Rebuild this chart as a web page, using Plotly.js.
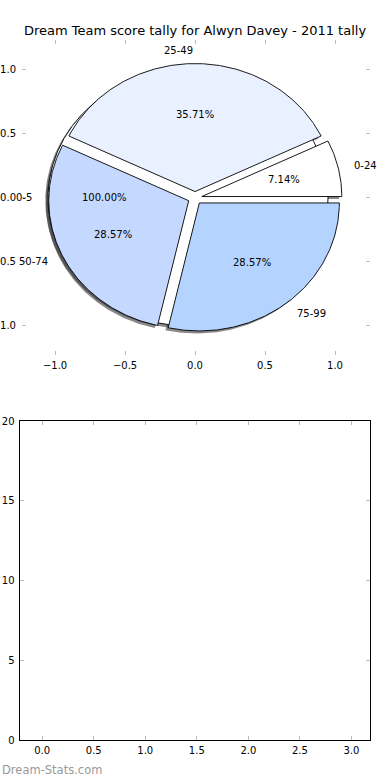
<!DOCTYPE html>
<html>
<head>
<meta charset="utf-8">
<script src="https://cdn.plot.ly/plotly-3.0.1.min.js"></script>
<style>html,body{margin:0;padding:0;background:#fff;}#chart{width:390px;height:780px;}</style>
</head>
<body>
<div id="chart"></div>
<script>
// ---- data ----
const titleText = 'Dream Team score tally for Alwyn Davey - 2011 tally';
const basePieLabels = ['0-5'];
const basePieCounts = [1];
const pieLabels = ['0-24', '25-49', '50-74', '75-99'];
const pieCounts = [1, 5, 4, 4];
const pieTicks = [-1.0, -0.5, 0.0, 0.5, 1.0];
const barXTicks = [0.0, 0.5, 1.0, 1.5, 2.0, 2.5, 3.0];
const barYTicks = [0, 5, 10, 15, 20];
const watermark = 'Dream-Stats.com';

// ---- styles ----
const basePieColors = ['#ffffff'];
const pieColors = ['#ffffff', '#e9f0ff', '#c5d8ff', '#b4d4ff'];
const explode = 0.05;
const shadowOff = -0.02;
const FONT = 'DejaVu Sans, sans-serif';

function wedgeGeom(counts) {
  const total = counts.reduce((a, b) => a + b, 0);
  let start = 0;
  return counts.map(c => {
    const sweep = 360 * c / total;
    const g = {t1: start, t2: start + sweep, frac: c / total};
    start += sweep;
    return g;
  });
}

function wedgePath(g, dx, dy) {
  const mid = (g.t1 + g.t2) / 2 * Math.PI / 180;
  const cx = explode * Math.cos(mid) + dx, cy = explode * Math.sin(mid) + dy;
  const xs = [], ys = [];
  const full = (g.t2 - g.t1) >= 359.999;
  const n = Math.max(8, Math.ceil((g.t2 - g.t1) * 2));
  if (!full) { xs.push(cx); ys.push(cy); }
  for (let i = 0; i <= n; i++) {
    const a = (g.t1 + (g.t2 - g.t1) * i / n) * Math.PI / 180;
    xs.push(cx + Math.cos(a)); ys.push(cy + Math.sin(a));
  }
  if (!full) { xs.push(cx); ys.push(cy); }
  return {xs, ys, cx, cy, mid};
}

const traces = [];
const annotations = [];
const pies = [
  {labels: basePieLabels, counts: basePieCounts, colors: basePieColors},
  {labels: pieLabels, counts: pieCounts, colors: pieColors}
];

// shadows first (matplotlib draws them underneath all wedges)
pies.forEach(p => {
  wedgeGeom(p.counts).forEach((g, i) => {
    const w = wedgePath(g, shadowOff, shadowOff);
    traces.push({x: w.xs, y: w.ys, xaxis: 'x', yaxis: 'y', type: 'scatter', mode: 'lines',
      fill: 'toself', fillcolor: 'rgba(40,40,45,0.55)', line: {width: 0, color: 'rgba(0,0,0,0)'},
      hoverinfo: 'skip', showlegend: false});
  });
});

pies.forEach(p => {
  wedgeGeom(p.counts).forEach((g, i) => {
    const w = wedgePath(g, 0, 0);
    traces.push({x: w.xs, y: w.ys, xaxis: 'x', yaxis: 'y', type: 'scatter', mode: 'lines',
      fill: 'toself', fillcolor: p.colors[i], line: {width: 0.9, color: '#000'},
      hoverinfo: 'skip', showlegend: false});
    const lx = 1.1 * Math.cos(w.mid) + (w.cx), ly = 1.1 * Math.sin(w.mid) + w.cy;
    const px = 0.6 * Math.cos(w.mid) + w.cx, py = 0.6 * Math.sin(w.mid) + w.cy;
    annotations.push({xref: 'x', yref: 'y', x: lx, y: ly, text: p.labels[i], showarrow: false,
      xanchor: lx > 1e-9 ? 'left' : 'right', yanchor: 'middle', font: {family: FONT, size: 10, color: '#000'}});
    annotations.push({xref: 'x', yref: 'y', x: px, y: py, text: (g.frac * 100).toFixed(2) + '%', showarrow: false,
      xanchor: 'center', yanchor: 'middle', font: {family: FONT, size: 10, color: '#000'}});
  });
});

// empty lower subplot
traces.push({x: [], y: [], xaxis: 'x2', yaxis: 'y2', type: 'scatter', mode: 'markers', showlegend: false});

annotations.push({xref: 'paper', yref: 'paper', x: 0, y: 1 - 770 / 780, xanchor: 'left', yanchor: 'middle',
  text: watermark, showarrow: false, font: {family: FONT, size: 11.5, color: '#999'}});

const tickCommon = {ticks: 'inside', ticklen: 4, tickwidth: 1, tickcolor: '#bbbbbb', mirror: 'ticks',
  showgrid: false, zeroline: false, tickfont: {family: FONT, size: 10, color: '#000'}};

const layout = {
  width: 390, height: 780,
  margin: {l: 0, r: 0, t: 0, b: 0},
  paper_bgcolor: '#fff', plot_bgcolor: 'rgba(0,0,0,0)',
  font: {family: FONT, size: 10, color: '#000'},
  title: {text: titleText, x: 0.5, xref: 'paper', y: 1 - 30 / 780, yref: 'container', yanchor: 'middle', xanchor: 'center',
    font: {family: FONT, size: 13, color: '#000'}},
  showlegend: false,
  xaxis: Object.assign({}, tickCommon, {domain: [22 / 390, 370 / 390], range: [-1.236, 1.25], tickvals: pieTicks,
    tickformat: '.1f', showline: false, anchor: 'y', ticklabelstandoff: 3}),
  yaxis: Object.assign({}, tickCommon, {domain: [1 - 355 / 780, 1 - 40 / 780], range: [-1.227, 1.234], tickvals: pieTicks,
    tickformat: '.1f', showline: false, anchor: 'x', ticklabelstandoff: 5}),
  xaxis2: Object.assign({}, tickCommon, {domain: [19.5 / 390, 370 / 390], range: [-0.22, 3.18], tickvals: barXTicks,
    tickformat: '.1f', showline: true, linecolor: '#000', linewidth: 1, mirror: 'allticks', anchor: 'y2', ticklabelstandoff: 1}),
  yaxis2: Object.assign({}, tickCommon, {domain: [1 - 740 / 780, 1 - 421 / 780], range: [0, 20], tickvals: barYTicks,
    showline: true, linecolor: '#000', linewidth: 1, mirror: 'allticks', anchor: 'x2', ticklabelstandoff: 2}),
  annotations: annotations
};

Plotly.newPlot('chart', traces, layout, {staticPlot: true, displayModeBar: false});
</script>
</body>
</html>
